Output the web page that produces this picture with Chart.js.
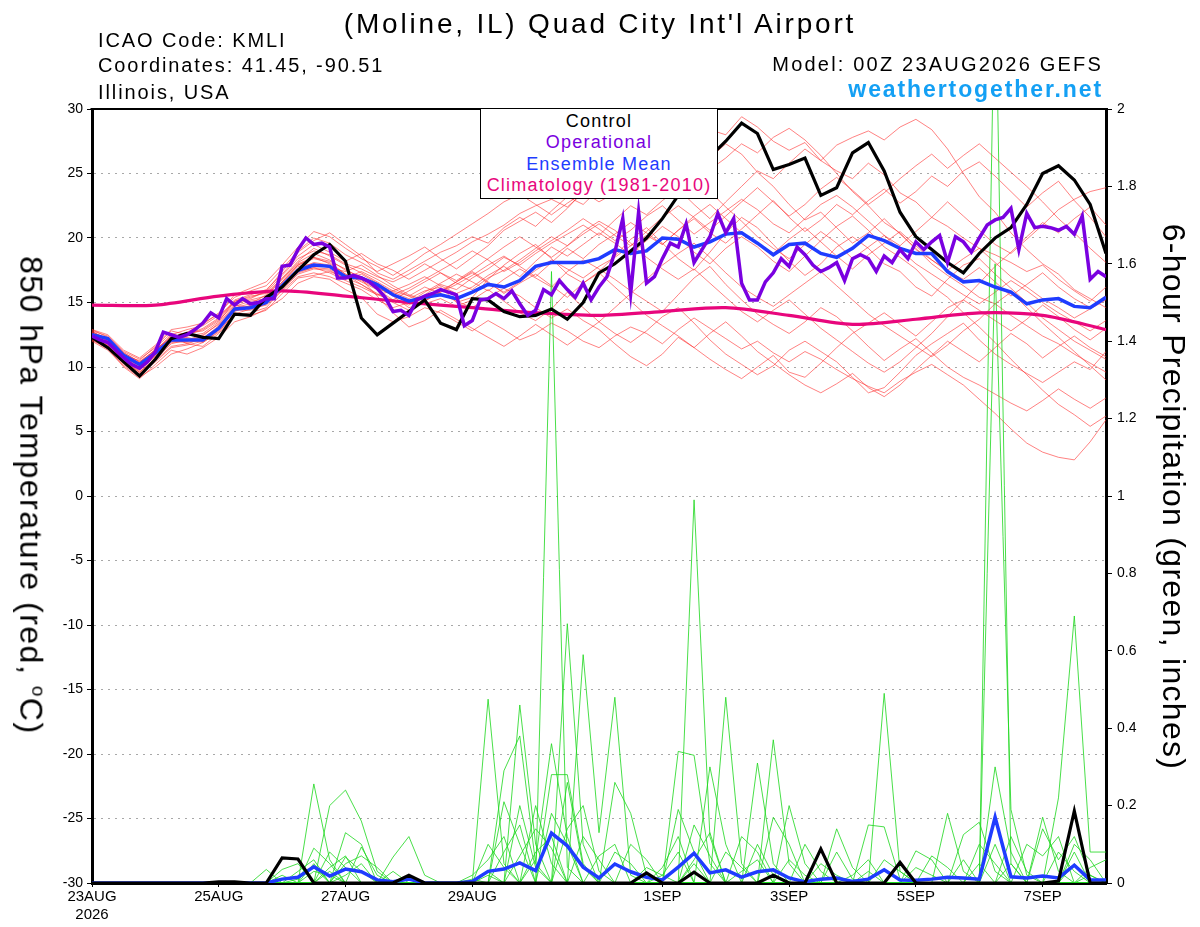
<!DOCTYPE html>
<html><head><meta charset="utf-8">
<script src="https://cdn.jsdelivr.net/npm/chart.js@4.4.1/dist/chart.umd.min.js"></script>
<style>
html,body{margin:0;padding:0;background:#fff;}
#wrap{position:relative;width:1200px;height:927px;font-family:"Liberation Sans",Arial,Helvetica,sans-serif;overflow:hidden;}
canvas{position:absolute;left:0;top:0;}
.t{position:absolute;white-space:nowrap;color:#000;line-height:1;}
.rot{transform:rotate(90deg);text-align:center;}
#legend{position:absolute;left:480px;top:108px;width:236px;height:87px;background:#fff;border:1px solid #000;text-align:center;font-size:18px;line-height:21.3px;padding-top:2px;box-sizing:content-box;letter-spacing:1.2px;}
</style></head><body>
<div id="wrap">
<canvas id="c" width="1200" height="927"></canvas>
<div class="t" style="left:0;width:1200px;text-align:center;top:10px;font-size:28px;letter-spacing:2.8px;">(Moline, IL) Quad City Int'l Airport</div>
<div class="t" style="left:98px;top:30px;font-size:20px;letter-spacing:1.9px;">ICAO Code: KMLI</div>
<div class="t" style="left:98px;top:55px;font-size:20px;letter-spacing:1.9px;">Coordinates: 41.45, -90.51</div>
<div class="t" style="left:98px;top:82px;font-size:20px;letter-spacing:1.9px;">Illinois, USA</div>
<div class="t" style="right:97px;top:54px;font-size:20px;text-align:right;letter-spacing:2.2px;">Model: 00Z 23AUG2026 GEFS</div>
<div class="t" style="right:97px;top:78px;font-size:23px;font-weight:bold;color:#14a0f4;text-align:right;letter-spacing:1.9px;">weathertogether.net</div>
<div class="t rot" style="left:-265px;top:474px;width:600px;font-size:32px;line-height:36px;letter-spacing:1.5px;">850 hPa Temperature (red, <sup style="font-size:60%;">o</sup>C)</div>
<div class="t rot" style="left:874px;top:479px;width:600px;font-size:32px;line-height:36px;letter-spacing:1.3px;">6-hour Precipitation (green, inches)</div>
<div id="legend">
<div style="color:#000;">Control</div>
<div style="color:#7a00e0;">Operational</div>
<div style="color:#1f3cff;">Ensemble Mean</div>
<div style="color:#e8067c;">Climatology (1981-2010)</div>
</div>
</div>
<script>
// ---------- axis categories ----------
const xTickHours = [0, 48, 96, 144, 216, 264, 312, 360];
const xTickLabels = [["23AUG", "2026"], "25AUG", "27AUG", "29AUG", "1SEP", "3SEP", "5SEP", "7SEP"];
const hours6 = Array.from({length: 65}, (_, i) => i * 6);
const hours3 = Array.from({length: 129}, (_, i) => i * 3);
const hours24 = Array.from({length: 17}, (_, i) => i * 24);

// ---------- 850 hPa temperature (C) ----------
const controlTemp = [12.3,11.5,10.4,9.3,10.6,12.2,12.6,12.3, 12.2,14.1,14.0,15.4,16.2,17.5,18.7,19.5, 18.2,13.8,12.5,13.4,14.3,15.2,13.4,12.9, 15.3,15.2,14.3,13.9,14.0,14.5,13.7,15.0, 17.3,18.0,19.0,20.0,21.5,23.3,24.8,26.3, 27.5,28.9,28.1,25.3,25.7,26.2,23.3,23.9, 26.6,27.4,25.2,22.0,20.1,19.1,18.1,17.3, 18.8,20.0,20.8,22.6,25.0,25.6,24.5,22.6, 18.8];
const meanTemp = [12.5,12.2,10.9,10.2,11.1,12.1,12.1,12.1, 13.0,14.5,14.6,15.0,16.3,17.5,17.9,17.8, 17.0,16.9,16.4,15.6,15.1,15.4,15.6,15.3, 15.8,16.4,16.2,16.7,17.8,18.1,18.1,18.1, 18.4,19.1,18.8,19.0,20.0,19.9,19.3,19.7, 20.3,20.4,19.6,18.7,19.5,19.6,18.8,18.5, 19.2,20.2,19.8,19.2,18.8,18.8,17.4,16.6, 16.7,16.2,15.8,14.9,15.2,15.3,14.7,14.6, 15.4];
const operationalTemp = [12.4,12.1,11.9,11.3,10.7,10.2,9.9,10.4,11.2,12.7,12.5,12.3,12.5,12.9,13.4,14.2,
 13.8,15.3,14.8,15.3,14.9,15.0,15.3,15.3,17.8,17.9,19.1,20.0,19.5,19.6,19.3,16.9,
 16.9,17.1,16.9,16.6,16.1,15.4,14.3,14.4,14.0,15.2,15.5,15.7,16.0,15.8,15.6,13.2,
 13.6,15.2,15.3,15.7,15.3,15.9,14.9,14.0,14.4,16.0,15.6,16.7,16.0,15.4,16.5,15.2,
 16.2,17.0,18.9,21.5,15.7,22.0,16.5,17.0,18.4,19.6,19.3,21.1,18.1,19.1,20.1,21.9,
 20.4,21.5,16.5,15.2,15.2,16.6,17.3,18.4,17.8,19.3,18.7,17.9,17.4,17.7,18.1,16.7,
 18.4,18.7,18.4,17.4,18.6,18.1,19.1,18.4,19.7,19.1,19.7,20.2,18.1,20.1,19.7,18.9,
 20.0,21.0,21.4,21.6,22.3,19.1,21.9,20.8,20.9,20.8,20.6,20.9,20.3,21.7,16.8,17.4,
 17.0];
const climatologyTemp = [14.8,14.8,15.5,15.9,15.5,15.0,14.6,14.2,14.0,14.3,14.6,14.0,13.3,13.7,14.2,14.0,12.9];

// ensemble members (temperature)
const ens01 = [12.8,12.0,10.9,10.5,11.6,12.8,12.5,13.0,13.8,15.2,15.6,16.0,17.2,18.6,19.5,18.9, 18.2,18.8,18.0,17.5,16.8,17.5,18.2,18.9,19.7,20.3,21.0,21.9,22.5,23.0,22.4,23.5, 24.2,25.0,24.5,26.0,27.0,27.6,27.2,28.4,28.0,29.4,28.6,27.5,26.8,27.4,26.0,25.2, 24.6,25.8,24.9,23.5,22.8,21.6,20.9,20.0,19.2,18.7,18.1,17.4,17.9,16.8,15.9,15.1,16.2];
const ens02 = [12.1,11.4,10.0,9.1,10.2,11.3,11.0,11.5,12.3,13.5,13.9,14.5,15.3,16.5,17.0,16.8, 16.0,15.4,14.1,13.5,13.9,14.6,14.2,13.5,12.8,13.6,12.9,12.1,12.6,13.4,12.8,12.0, 11.5,12.4,13.1,12.6,11.8,12.9,13.8,13.0,12.2,11.4,12.0,11.1,10.4,11.2,10.6,9.8, 9.1,8.5,8.0,8.9,9.6,10.2,9.4,8.6,7.5,6.4,5.2,4.1,3.4,3.0,2.8,4.2,5.9];
const ens03 = [12.4,11.8,10.6,9.8,10.8,12.0,12.3,12.0,12.9,14.3,14.8,15.2,16.6,17.9,18.4,18.1, 17.2,16.6,16.0,15.2,14.8,15.6,16.4,16.0,16.9,17.6,18.5,17.9,18.8,19.6,20.3,21.0, 20.2,21.4,22.5,21.8,22.9,23.8,22.6,21.5,22.8,24.0,25.2,24.6,25.8,26.9,26.0,27.2, 27.8,28.3,27.6,28.6,29.2,28.4,26.9,25.0,23.2,22.0,20.4,19.1,18.0,17.2,16.0,15.3,14.6];
const ens04 = [12.9,12.3,11.1,10.4,11.3,12.4,11.8,11.6,12.6,14.0,14.2,14.6,16.0,17.2,17.6,17.5, 16.8,17.2,16.5,15.8,15.3,15.9,16.2,15.0,15.4,16.8,17.9,18.8,19.5,18.4,17.2,16.5, 17.4,18.6,19.9,20.8,19.6,18.4,17.5,18.9,20.4,21.6,20.8,19.5,18.2,17.1,18.0,19.3, 20.1,19.2,18.0,17.4,16.2,15.5,16.8,17.9,18.4,17.2,16.1,15.0,13.8,12.9,12.0,11.3,10.6];
const ens05 = [12.2,11.6,10.3,9.5,10.5,11.6,11.8,12.2,13.2,14.6,14.9,15.6,16.8,18.1,18.8,18.3, 17.5,17.0,16.2,15.5,14.6,14.9,15.3,14.7,15.2,16.0,15.1,14.2,13.6,14.5,15.8,14.6, 13.5,12.6,11.9,12.8,13.9,14.6,13.4,12.1,11.0,10.2,9.4,10.1,11.3,12.0,11.2,10.4, 9.2,8.0,8.4,9.6,10.9,11.8,12.6,13.4,12.1,11.0,10.2,9.5,8.8,9.6,10.4,9.8,11.2];
const ens06 = [12.6,12.1,10.8,10.1,11.2,12.5,12.9,13.2,14.0,15.0,15.3,15.9,17.4,18.9,19.8,20.4, 19.5,18.6,17.3,16.8,17.5,18.2,18.9,19.4,20.1,19.6,20.8,21.6,20.9,22.1,23.2,22.6, 23.8,24.9,25.6,24.8,25.9,26.8,25.4,26.2,27.3,26.5,25.1,24.0,22.6,21.4,22.0,20.8, 19.6,20.4,21.5,20.3,19.2,18.0,17.1,16.3,15.4,14.9,14.0,13.2,12.4,11.8,11.0,10.3,9.6];
const ens07 = [12.0,11.3,10.1,9.2,10.0,11.0,11.4,11.9,12.8,14.1,14.5,14.8,15.9,17.0,17.3,17.0, 16.5,16.0,15.2,14.6,15.0,15.8,16.5,17.2,16.6,15.9,16.8,17.6,16.9,16.2,17.4,18.3, 17.6,16.8,15.9,15.1,14.3,15.6,16.9,17.8,16.4,15.2,14.1,13.3,12.6,13.5,14.6,13.9, 12.8,11.6,10.5,11.4,12.2,11.1,10.0,9.2,8.6,7.9,7.2,6.6,7.4,8.3,7.5,6.8,7.6];
const ens08 = [12.7,12.2,11.0,10.3,11.4,12.2,12.0,12.4,13.4,14.8,14.6,15.1,16.5,17.8,18.0,17.7, 17.4,17.9,17.1,16.3,15.6,15.2,15.8,16.6,17.3,16.5,15.8,16.6,17.5,18.3,17.6,16.9, 17.8,18.5,19.4,20.2,19.5,20.6,21.5,20.4,19.6,20.7,21.8,22.9,21.6,20.5,21.4,22.6, 21.8,22.9,23.8,22.7,23.6,24.8,24.0,25.2,25.9,24.8,23.6,22.4,23.5,24.4,22.9,21.6,20.1];
const ens09 = [12.3,11.7,10.5,9.7,10.9,12.1,12.4,12.6,13.5,15.1,15.5,15.7,16.9,18.2,19.2,18.6, 17.9,17.3,16.6,15.9,15.5,16.2,15.7,15.1,14.6,15.4,16.1,15.5,14.6,13.8,14.5,13.6, 12.9,11.8,10.8,10.1,11.0,12.3,11.5,10.6,9.8,9.1,10.0,10.9,9.6,9.2,10.3,11.5, 12.6,13.4,14.2,13.3,12.4,13.5,14.6,15.2,14.4,13.6,12.8,13.7,14.8,13.9,12.9,12.1,13.0];
const ens10 = [12.5,11.9,10.7,9.9,11.0,12.3,12.7,13.3,14.2,15.4,15.9,16.3,17.6,19.0,20.0,19.6, 18.7,18.1,17.4,18.0,18.6,19.3,18.4,17.6,18.5,19.4,20.6,21.3,22.0,21.2,22.3,23.6, 22.8,23.5,24.6,23.9,24.8,25.6,26.4,25.3,26.2,27.3,26.6,27.8,28.5,27.6,26.4,25.0, 23.6,22.5,21.2,20.4,19.1,18.3,17.5,18.4,19.2,18.1,17.0,16.2,15.3,14.6,13.8,14.5,15.2];
const ens11 = [12.8,12.4,11.2,10.6,11.5,12.6,12.2,11.9,12.7,14.2,14.0,14.4,15.7,16.9,17.1,17.4, 16.9,16.4,15.6,15.9,16.4,17.0,16.3,15.7,16.2,17.1,17.8,17.0,18.2,19.3,18.6,19.5, 20.4,19.6,18.7,19.8,20.9,20.1,18.9,18.0,19.2,20.1,19.3,18.2,17.4,18.6,19.8,20.9, 21.7,20.6,19.3,18.5,17.6,16.3,15.4,14.2,13.1,11.9,10.6,9.4,8.2,7.1,6.3,5.4,6.2];
const ens12 = [12.1,11.5,10.2,9.4,10.4,11.5,11.7,12.0,12.9,14.4,14.4,14.9,16.2,17.4,17.7,17.3, 16.7,16.2,15.6,15.2,15.9,16.6,17.3,16.5,16.0,16.9,17.5,18.3,19.2,20.1,19.4,20.5, 21.3,20.6,19.6,18.5,17.6,16.8,17.6,16.5,15.4,14.3,13.5,14.4,15.2,14.1,13.0,12.1, 11.2,10.3,9.6,10.4,11.5,12.6,13.9,15.2,16.5,17.8,18.9,20.1,21.2,20.4,21.5,22.4,21.0];
const ens13 = [12.6,12.0,10.8,10.0,11.0,12.0,11.9,12.1,13.1,14.5,14.7,15.3,16.4,17.6,18.1,17.9, 17.1,16.7,16.1,15.6,16.1,16.8,17.5,18.2,19.0,18.3,17.4,18.1,19.0,19.8,20.6,21.5, 20.7,19.8,20.6,21.7,22.5,21.4,20.3,21.2,22.1,23.0,22.2,21.1,20.4,21.5,22.6,23.3, 22.4,21.3,20.2,19.4,20.5,21.6,22.8,21.7,20.6,19.5,18.8,19.9,21.0,22.2,23.0,23.6,23.9];
const ens14 = [12.4,11.7,10.4,9.6,10.6,11.8,12.1,12.5,13.3,14.7,15.1,15.3,16.6,17.9,18.5,18.2, 17.6,16.8,15.5,14.2,13.1,13.6,14.4,13.7,13.0,12.3,11.6,12.4,13.3,12.5,11.7,12.6, 13.5,14.6,15.7,16.8,17.9,18.8,19.6,18.5,17.3,16.2,15.4,14.7,15.6,16.5,17.4,16.3, 15.2,14.1,13.2,12.4,11.6,10.8,11.7,12.8,13.7,14.9,15.8,14.6,13.4,12.3,11.2,10.1,9.0];
const ens15 = [12.9,12.5,11.3,10.7,11.7,12.9,13.1,13.4,14.1,15.6,16.1,16.6,17.9,19.3,20.5,20.1, 19.2,18.4,17.8,17.1,17.9,18.8,19.5,20.3,21.1,21.9,22.8,23.4,22.6,21.8,22.7,23.5, 24.3,25.1,24.2,25.3,26.2,25.4,24.5,23.6,22.4,21.3,20.1,19.2,18.4,19.5,20.5,19.6, 18.4,19.3,20.2,19.1,18.0,17.2,16.4,15.6,14.9,15.8,16.7,15.9,15.0,14.2,13.5,12.8,13.6];
const ens16 = [12.2,11.6,10.5,9.6,10.7,11.9,12.0,12.3,13.0,14.4,14.7,14.9,16.1,17.3,17.7,17.6, 16.9,17.4,16.8,16.1,15.5,15.1,15.8,16.4,17.1,17.9,18.6,17.8,17.0,18.1,19.2,18.4, 19.5,20.3,21.2,20.4,19.5,20.6,21.7,22.6,21.5,20.4,19.6,18.8,19.9,20.8,19.7,18.6, 17.6,18.7,19.6,20.5,19.4,18.3,17.4,16.8,17.7,16.6,15.5,16.4,17.3,16.2,15.3,14.6,15.5];
const ens17 = [12.7,12.2,11.1,10.4,11.3,12.3,12.6,12.8,13.6,14.9,15.2,15.5,16.8,18.0,18.5,18.0, 17.2,16.4,15.7,15.0,14.4,15.1,15.9,16.6,17.4,16.6,15.7,16.5,17.2,16.3,15.4,16.5, 17.3,16.2,15.1,14.0,13.2,12.4,11.5,12.6,13.5,12.4,11.2,10.3,9.4,8.6,8.0,8.7, 9.5,8.4,7.7,8.6,9.8,10.9,12.0,11.2,10.4,11.5,12.6,11.8,10.7,11.6,12.4,11.5,10.8];
const ens18 = [12.3,11.9,10.6,9.8,10.9,12.2,12.5,12.9,13.7,15.1,15.4,15.8,17.1,18.4,19.0,18.7, 18.0,17.6,17.0,16.6,17.2,18.0,17.3,16.7,17.5,18.4,19.3,20.1,19.3,18.5,19.4,20.3, 21.1,20.2,19.4,20.5,21.6,22.5,21.6,20.6,21.7,22.8,23.9,22.8,21.7,22.6,23.8,24.7, 23.7,22.6,23.5,24.6,25.6,26.5,25.4,26.4,27.3,26.2,25.1,24.0,22.8,21.5,20.4,19.2,18.1];
const tempMembers = [ens01,ens02,ens03,ens04,ens05,ens06,ens07,ens08,ens09,ens10,ens11,ens12,ens13,ens14,ens15,ens16,ens17,ens18];

// ---------- 6-hour precipitation (inches) ----------
const controlPrecip = [0,0,0,0,0,0,0,0, 0.003,0.003,0,0,0.065,0.062,0,0, 0,0,0,0,0.02,0,0,0, 0,0,0,0,0,0,0,0, 0,0,0,0.026,0,0,0.028,0, 0,0,0,0.02,0,0,0.088,0, 0,0,0,0.053,0,0,0,0, 0,0,0,0,0,0.005,0.186,0, 0];
const meanPrecip = [0,0,0,0,0,0,0,0, 0,0,0,0,0.01,0.015,0.042,0.018, 0.036,0.029,0.008,0.003,0.01,0,0,0, 0.004,0.03,0.036,0.052,0.032,0.129,0.096,0.041, 0.013,0.049,0.029,0.015,0.008,0.041,0.077,0.026, 0.034,0.015,0.029,0.034,0.013,0.003,0.01,0.013, 0.004,0.01,0.034,0.008,0.007,0.01,0.015,0.013, 0.01,0.17,0.016,0.013,0.018,0.013,0.046,0.008, 0.008];

const pcp01 = [0,0,0,0,0,0,0,0, 0,0,0,0,0,0,0.256,0.06, 0,0,0,0,0,0,0,0, 0,0.02,0,0,0,1.58,0.04,0, 0,0,0,0,0,0,0.05,0, 0,0,0,0,0,0,0,0, 0,0,0.49,0.03,0,0,0,0, 0,0.1,0,0,0,0,0.05,0, 0];
const pcp02 = [0,0,0,0,0,0,0,0, 0,0,0,0,0,0,0,0.2, 0.24,0.16,0.03,0,0,0,0,0, 0,0,0,0.46,0.1,0,0,0, 0,0,0,0,0,0,0.99,0.12, 0,0,0,0,0,0,0,0, 0,0,0,0,0,0,0,0, 0,2.4,0.05,0,0,0,0,0, 0];
const pcp03 = [0,0,0,0,0,0,0,0, 0,0,0,0,0,0,0,0, 0.13,0.1,0,0,0,0,0,0, 0,0,0,0,0,0,0.67,0.1, 0,0,0,0,0,0,0,0, 0.48,0.05,0,0,0,0,0,0, 0,0,0,0,0,0,0,0, 0,1.6,0.19,0.02,0,0,0,0, 0];
const pcp04 = [0,0,0,0,0,0,0,0, 0,0,0,0,0,0,0,0, 0,0,0,0.067,0.12,0.02,0,0, 0,0.475,0.05,0,0,0,0,0.59, 0.13,0.48,0.02,0,0,0,0,0, 0,0,0,0,0,0,0,0, 0,0,0,0,0,0,0.18,0.03, 0,0,0,0,0,0,0,0, 0];
const pcp05 = [0,0,0,0,0,0,0,0, 0,0,0,0,0,0,0.09,0.05, 0,0,0,0,0,0,0,0, 0,0,0.29,0.38,0.05,0,0,0, 0,0,0,0,0,0.34,0.33,0.05, 0,0,0,0,0,0,0,0, 0,0,0,0,0,0,0,0, 0,0,0,0,0,0.22,0.69,0.08, 0.08];
const pcp06 = [0,0,0,0,0,0,0,0, 0,0,0,0,0,0,0,0, 0,0.093,0.02,0,0,0,0,0, 0,0,0.21,0.1,0,0.28,0.28,0.05, 0,0,0,0,0,0,0,0, 0,0,0.31,0.05,0,0,0,0, 0,0.15,0.145,0.01,0,0,0,0, 0,0,0,0,0,0,0,0, 0];
const pcp07 = [0,0,0,0,0,0,0,0, 0,0,0,0,0.035,0.05,0,0, 0.067,0.03,0,0,0,0,0,0, 0,0,0,0,0,0,0,0, 0,0.26,0.18,0.02,0,0,0,0, 0,0,0,0.37,0.05,0,0,0, 0,0,0,0,0,0,0,0, 0,0,0,0,0.17,0.03,0,0, 0];
const pcp08 = [0,0,0,0,0,0,0,0, 0,0,0,0,0,0.03,0.06,0, 0,0,0,0,0,0,0,0, 0,0,0,0,0.08,0.12,0,0, 0,0,0,0,0,0,0,0.3, 0.1,0,0,0,0.2,0.05,0,0, 0,0,0,0,0.083,0.06,0,0.125, 0.157,0.03,0,0,0,0,0,0, 0];
const pcp09 = [0,0,0,0,0,0,0,0, 0,0,0,0.035,0,0,0,0.04, 0.07,0,0,0,0,0,0,0, 0.02,0.06,0.12,0,0,0,0.26,0.04, 0,0,0,0,0,0.19,0.08,0, 0,0,0,0.17,0.1,0,0,0.14, 0.04,0,0,0,0,0,0,0, 0,0,0,0,0,0,0,0, 0];
const pcp10 = [0,0,0,0,0,0,0,0, 0,0,0,0,0,0,0.05,0, 0,0,0,0.03,0,0,0,0, 0,0,0,0.07,0.14,0.09,0,0, 0.07,0.1,0,0,0.04,0.12,0,0, 0,0,0,0,0,0,0.05,0.02, 0,0,0,0,0,0,0,0, 0.05,0,0,0,0.14,0.06,0.12,0.02, 0];
const pcp11 = [0,0,0,0,0,0,0,0, 0,0,0,0,0.02,0,0,0.08, 0.04,0,0,0,0,0,0,0, 0,0,0,0,0.2,0.05,0,0, 0,0,0.1,0.06,0,0,0,0, 0,0.12,0.08,0,0,0,0,0, 0.02,0.06,0,0,0,0,0,0, 0,0,0.12,0.03,0,0,0.1,0.06, 0];
const pcp12 = [0,0,0,0,0,0,0,0, 0,0,0,0,0,0,0,0, 0.05,0.07,0.04,0,0,0,0,0, 0,0.03,0,0,0,0.18,0.1,0, 0,0,0,0.04,0.02,0,0.15,0.07, 0,0,0,0,0,0.1,0.03,0, 0,0,0,0,0,0.07,0.04,0, 0,0,0,0.1,0.07,0.12,0,0, 0];
const pcp13 = [0,0,0,0,0,0,0,0, 0,0,0,0,0,0,0.03,0.02, 0,0,0,0,0,0,0,0, 0.01,0,0.08,0.15,0,0,0,0.12, 0.06,0,0,0,0,0,0,0, 0.08,0.04,0,0,0,0,0,0, 0,0,0.06,0.03,0,0,0,0, 0.1,0.05,0,0,0,0,0,0.04, 0.06];
const pcp14 = [0,0,0,0,0,0,0,0, 0,0,0,0,0,0.01,0.04,0, 0,0,0,0,0,0,0,0, 0,0,0,0,0.06,0.36,0.12,0, 0,0,0,0,0.02,0.08,0,0, 0,0,0.1,0.02,0,0,0,0.08, 0.01,0,0,0,0,0,0,0.06, 0,0,0,0,0,0,0.08,0, 0];
const pcp15 = [0,0,0,0,0,0,0,0, 0,0,0,0,0,0,0,0, 0.02,0.05,0,0,0,0,0,0, 0,0.1,0.04,0,0,0,0.14,0.2, 0.03,0,0,0,0,0,0.06,0.13, 0,0,0,0,0.06,0.02,0,0, 0,0,0,0,0.04,0.02,0,0, 0,0,0.05,0,0,0.08,0.03,0, 0];
const pcp16 = [0,0,0,0,0,0,0,0, 0,0,0,0,0,0,0,0.03, 0,0,0,0,0.02,0,0,0, 0,0,0,0.2,0.04,0,0,0, 0,0.08,0.05,0,0,0,0,0, 0,0.03,0.06,0,0,0,0,0, 0,0.03,0,0,0,0,0,0, 0,0.3,0.08,0,0,0,0,0.02, 0];
const precipMembers = [pcp01,pcp02,pcp03,pcp04,pcp05,pcp06,pcp07,pcp08,pcp09,pcp10,pcp11,pcp12,pcp13,pcp14,pcp15,pcp16];

// ---------- build datasets ----------
function pts(hrs, vals) { return vals.map((v, i) => ({x: hrs[i], y: v})); }
const datasets = [];
function line(data, axis, color, width, extra) {
  return Object.assign({data: data, yAxisID: axis, borderColor: color, borderWidth: width,
    pointRadius: 0, fill: false, tension: 0, borderJoinStyle: 'miter'}, extra || {});
}
datasets.push(line(pts(hours3, operationalTemp), 'y', '#7a00e0', 3.5));
datasets.push(line(pts(hours6, controlTemp), 'y', '#000000', 3.2));
datasets.push(line(pts(hours6, meanTemp), 'y', '#1f3cff', 3.5));
datasets.push(line(pts(hours24, climatologyTemp), 'y', '#e8067c', 3.2, {tension: 0.3}));
datasets.push(line(pts(hours6, controlPrecip), 'y2', '#000000', 3.2));
datasets.push(line(pts(hours6, meanPrecip), 'y2', '#1f3cff', 3.5));
precipMembers.forEach(m => datasets.push(line(pts(hours6, m), 'y2', 'rgba(30,215,30,0.9)', 0.9)));
tempMembers.forEach(m => datasets.push(line(pts(hours6, m), 'y', 'rgba(255,45,45,0.75)', 0.8)));

const topBorder = {
  id: 'topBorder',
  afterDatasetsDraw(chart) {
    const {ctx, chartArea: a} = chart;
    ctx.save();
    ctx.strokeStyle = '#000';
    ctx.lineWidth = 2;
    ctx.beginPath();
    ctx.moveTo(a.left - 1.5, a.top);
    ctx.lineTo(a.right + 1.5, a.top);
    ctx.stroke();
    ctx.restore();
  }
};

Chart.defaults.font.family = '"Liberation Sans", Arial, sans-serif';
Chart.defaults.color = '#000';

new Chart(document.getElementById('c'), {
  type: 'line',
  data: {datasets: datasets},
  options: {
    responsive: false,
    animation: false,
    devicePixelRatio: 1,
    layout: {padding: {top: 109, left: 0, right: 0, bottom: 0}},
    plugins: {legend: {display: false}, tooltip: {enabled: false}},
    scales: {
      x: {
        type: 'linear', min: 0, max: 384,
        afterBuildTicks: s => { s.ticks = xTickHours.map(v => ({value: v})); },
        afterFit: s => { s.height = 44; },
        ticks: {
          autoSkip: false, maxRotation: 0, minRotation: 0, padding: 1,
          font: {size: 15},
          callback: (v) => { const k = xTickHours.indexOf(v); return k >= 0 ? xTickLabels[k] : ''; }
        },
        grid: {drawOnChartArea: false, drawTicks: true, tickLength: 4, tickColor: '#000', tickWidth: 1},
        border: {display: true, color: '#000', width: 3}
      },
      y: {
        type: 'linear', position: 'left', min: -30, max: 30,
        afterFit: s => { s.width = 92; },
        ticks: {stepSize: 5, font: {size: 14}, padding: 4},
        grid: {
          drawOnChartArea: true, drawTicks: true, tickLength: 5, tickColor: '#000', tickWidth: 1,
          lineWidth: 1,
          color: c => (c.tick && (c.tick.value === 30 || c.tick.value === -30)) ? 'rgba(0,0,0,0)' : '#a8a8a8'
        },
        border: {display: true, color: '#000', width: 3, dash: [2, 5]}
      },
      y2: {
        type: 'linear', position: 'right', min: 0, max: 2,
        afterFit: s => { s.width = 94; },
        ticks: {stepSize: 0.2, font: {size: 14}, padding: 5,
          callback: v => String(Math.round(v * 10) / 10)},
        grid: {drawOnChartArea: false, drawTicks: true, tickLength: 6, tickColor: '#000', tickWidth: 1},
        border: {display: true, color: '#000', width: 3}
      }
    }
  },
  plugins: [topBorder]
});
</script>
</body></html>
